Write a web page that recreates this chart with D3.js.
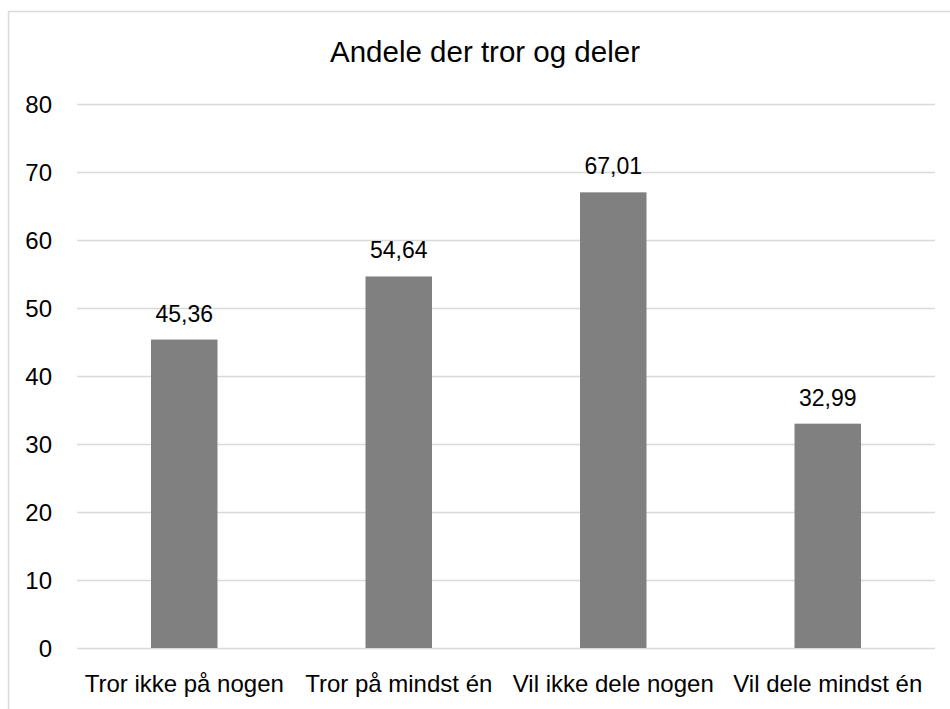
<!DOCTYPE html>
<html>
<head>
<meta charset="utf-8">
<script src="https://cdn.jsdelivr.net/npm/d3@7"></script>
<style>
  body { margin: 0; background: #fff; }
  text { font-family: "Liberation Sans", Arial, sans-serif; fill: #000; }
  .grid line { stroke: #d9d9d9; stroke-width: 1.5; }
  .grid path { display: none; }
</style>
</head>
<body>
<div id="chart"></div>
<script>
var title = "Andele der tror og deler";
var categories = ["Tror ikke på nogen", "Tror på mindst én", "Vil ikke dele nogen", "Vil dele mindst én"];
var values = [45.36, 54.64, 67.01, 32.99];
var yTicks = [0, 10, 20, 30, 40, 50, 60, 70, 80];

var W = 950, H = 709;
var margin = {left: 77, right: 15, top: 104, bottom: 61};
var width = W - margin.left - margin.right,
    height = H - margin.top - margin.bottom;

var svg = d3.select("#chart").append("svg")
    .attr("width", W)
    .attr("height", H);

/* chart frame, runs off the right and bottom edge */
svg.append("rect")
    .attr("x", 8.5).attr("y", 11.5)
    .attr("width", 1200).attr("height", 1200)
    .attr("fill", "none")
    .attr("stroke", "#d9d9d9")
    .attr("stroke-width", 1.5);

svg.append("text")
    .attr("x", 485)
    .attr("y", 62)
    .attr("text-anchor", "middle")
    .style("font-size", "29.5px")
    .text(title);

var g = svg.append("g")
    .attr("transform", "translate(" + margin.left + "," + margin.top + ")");

var x = d3.scaleBand().domain(categories).range([0, width]).paddingInner(0.69).paddingOuter(0.345);
var y = d3.scaleLinear().domain([0, 80]).range([height, 0]);

var gGrid = g.append("g")
    .attr("class", "grid")
    .call(d3.axisLeft(y).tickValues(yTicks).tickSize(-width).tickFormat(""));

g.selectAll(".ylab")
    .data(yTicks)
  .enter().append("text")
    .attr("class", "ylab")
    .attr("x", -25)
    .attr("y", function(d) { return y(d); })
    .attr("dy", "0.36em")
    .attr("text-anchor", "end")
    .style("font-size", "24px")
    .text(function(d) { return d; });

g.selectAll(".bar")
    .data(values)
  .enter().append("rect")
    .attr("class", "bar")
    .attr("x", function(d, i) { return x(categories[i]); })
    .attr("y", function(d) { return y(d); })
    .attr("width", x.bandwidth())
    .attr("height", function(d) { return height - y(d); })
    .attr("fill", "#808080");

g.selectAll(".vlab")
    .data(values)
  .enter().append("text")
    .attr("class", "vlab")
    .attr("x", function(d, i) { return x(categories[i]) + x.bandwidth() / 2; })
    .attr("y", function(d) { return y(d) - 18; })
    .attr("text-anchor", "middle")
    .style("font-size", "23px")
    .text(function(d) { return d3.format(".2f")(d).replace(".", ","); });

g.selectAll(".xlab")
    .data(categories)
  .enter().append("text")
    .attr("class", "xlab")
    .attr("x", function(d) { return x(d) + x.bandwidth() / 2; })
    .attr("y", height + 44)
    .attr("text-anchor", "middle")
    .style("font-size", "24px")
    .text(function(d) { return d; });
</script>
</body>
</html>
